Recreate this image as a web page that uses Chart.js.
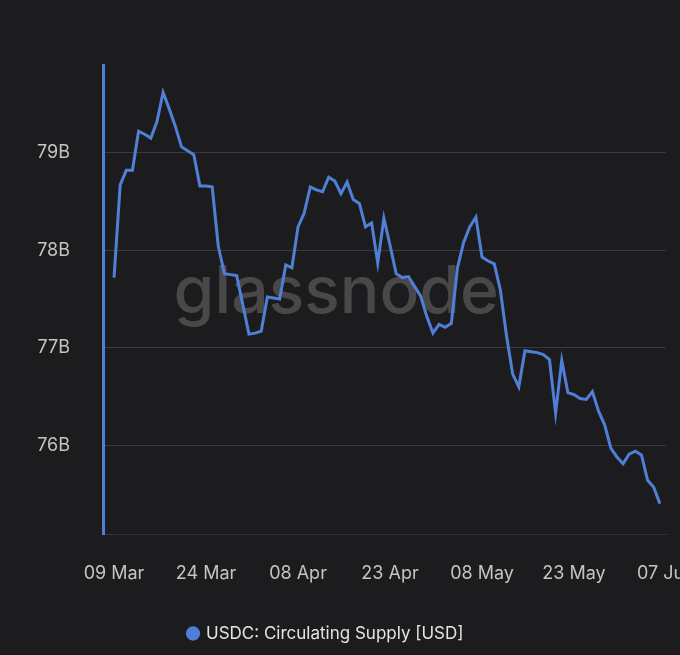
<!DOCTYPE html>
<html>
<head>
<meta charset="utf-8">
<script src="https://cdn.jsdelivr.net/npm/chart.js@4/dist/chart.umd.min.js"></script>
<style>
  html, body { margin: 0; padding: 0; background: #1c1c1e; overflow: hidden; }
  #wrap { position: absolute; left: 0; top: 0; width: 720px; height: 655px; }
</style>
</head>
<body>
<div id="wrap"><canvas id="chart"></canvas></div>
<script>
// USDC circulating supply, billions, one value per day from 09 Mar to 06 Jun
const supply = [
  77.72, 78.67, 78.82, 78.82, 79.22, 79.19, 79.15, 79.32, 79.62, 79.45,
  79.27, 79.06, 79.02, 78.98, 78.66, 78.66, 78.65, 78.04, 77.76, 77.75,
  77.74, 77.44, 77.14, 77.15, 77.17, 77.52, 77.51, 77.50, 77.85, 77.82,
  78.24, 78.38, 78.65, 78.62, 78.60, 78.75, 78.71, 78.58, 78.70, 78.52,
  78.48, 78.24, 78.28, 77.87, 78.33, 78.05, 77.76, 77.72, 77.73, 77.63,
  77.53, 77.32, 77.15, 77.24, 77.21, 77.25, 77.82, 78.08, 78.24, 78.34,
  77.93, 77.89, 77.86, 77.59, 77.12, 76.73, 76.60, 76.97, 76.96, 76.95,
  76.93, 76.88, 76.33, 76.87, 76.54, 76.52, 76.48, 76.47, 76.55, 76.35,
  76.21, 75.97, 75.88, 75.81, 75.91, 75.94, 75.90, 75.64, 75.57, 75.40
];
const tickDays = [0, 15, 30, 45, 60, 75, 90];
const tickLabels = ['09 Mar', '24 Mar', '08 Apr', '23 Apr', '08 May', '23 May', '07 Jun'];
const yTicks = [76, 77, 78, 79];
const seriesName = 'USDC: Circulating Supply [USD]';

const blue = '#4f7fd6';
const font = "Inter, 'Noto Sans', sans-serif";

const watermark = {
  id: 'watermark',
  beforeDatasetsDraw(chart) {
    const ctx = chart.ctx, a = chart.chartArea;
    ctx.save();
    ctx.font = "500 66px " + font;
    ctx.fillStyle = 'rgba(110,110,110,0.55)';
    ctx.textAlign = 'center';
    ctx.textBaseline = 'alphabetic';
    ctx.fillText('glassnode', chart.width * 0.467, a.top + a.height * 0.529);
    ctx.restore();
  }
};

const ctx = document.getElementById('chart').getContext('2d');
new Chart(ctx, {
  type: 'line',
  data: {
    datasets: [{
      label: seriesName,
      data: supply.map((v, i) => ({ x: i, y: v })),
      borderColor: blue,
      backgroundColor: blue,
      borderWidth: 3,
      pointRadius: 0,
      pointStyle: 'circle',
      tension: 0
    }]
  },
  options: {
    responsive: true,
    maintainAspectRatio: false,
    animation: false,
    layout: { padding: { left: -14, right: 54, top: 65, bottom: 3 } },
    plugins: {
      legend: {
        position: 'bottom',
        labels: {
          usePointStyle: true,
          boxWidth: 9,
          boxHeight: 8,
          color: '#e4e4e4',
          font: { family: font, size: 17 }
        }
      },
      tooltip: { enabled: false }
    },
    scales: {
      x: {
        type: 'linear',
        min: -1.8,
        max: 90,
        grid: { display: false },
        border: { display: true, color: '#333335', width: 1 },
        afterBuildTicks: s => { s.ticks = tickDays.map(v => ({ value: v })); },
        afterFit: s => { s.height = 81; },
        ticks: {
          autoSkip: false,
          maxRotation: 0,
          padding: 21,
          color: '#c4c4c4',
          font: { family: font, size: 18 },
          callback: v => tickLabels[tickDays.indexOf(v)]
        }
      },
      y: {
        min: 75.09,
        max: 79.9,
        grid: { color: '#3a3a3c', lineWidth: 1, drawTicks: false },
        border: { display: true, color: blue, width: 3 },
        afterBuildTicks: s => { s.ticks = yTicks.map(v => ({ value: v })); },
        afterFit: s => { s.width = 117; },
        ticks: {
          padding: 33,
          color: '#c4c4c4',
          font: { family: font, size: 18 },
          callback: v => v + 'B'
        }
      }
    }
  },
  plugins: [watermark]
});
</script>
</body>
</html>
